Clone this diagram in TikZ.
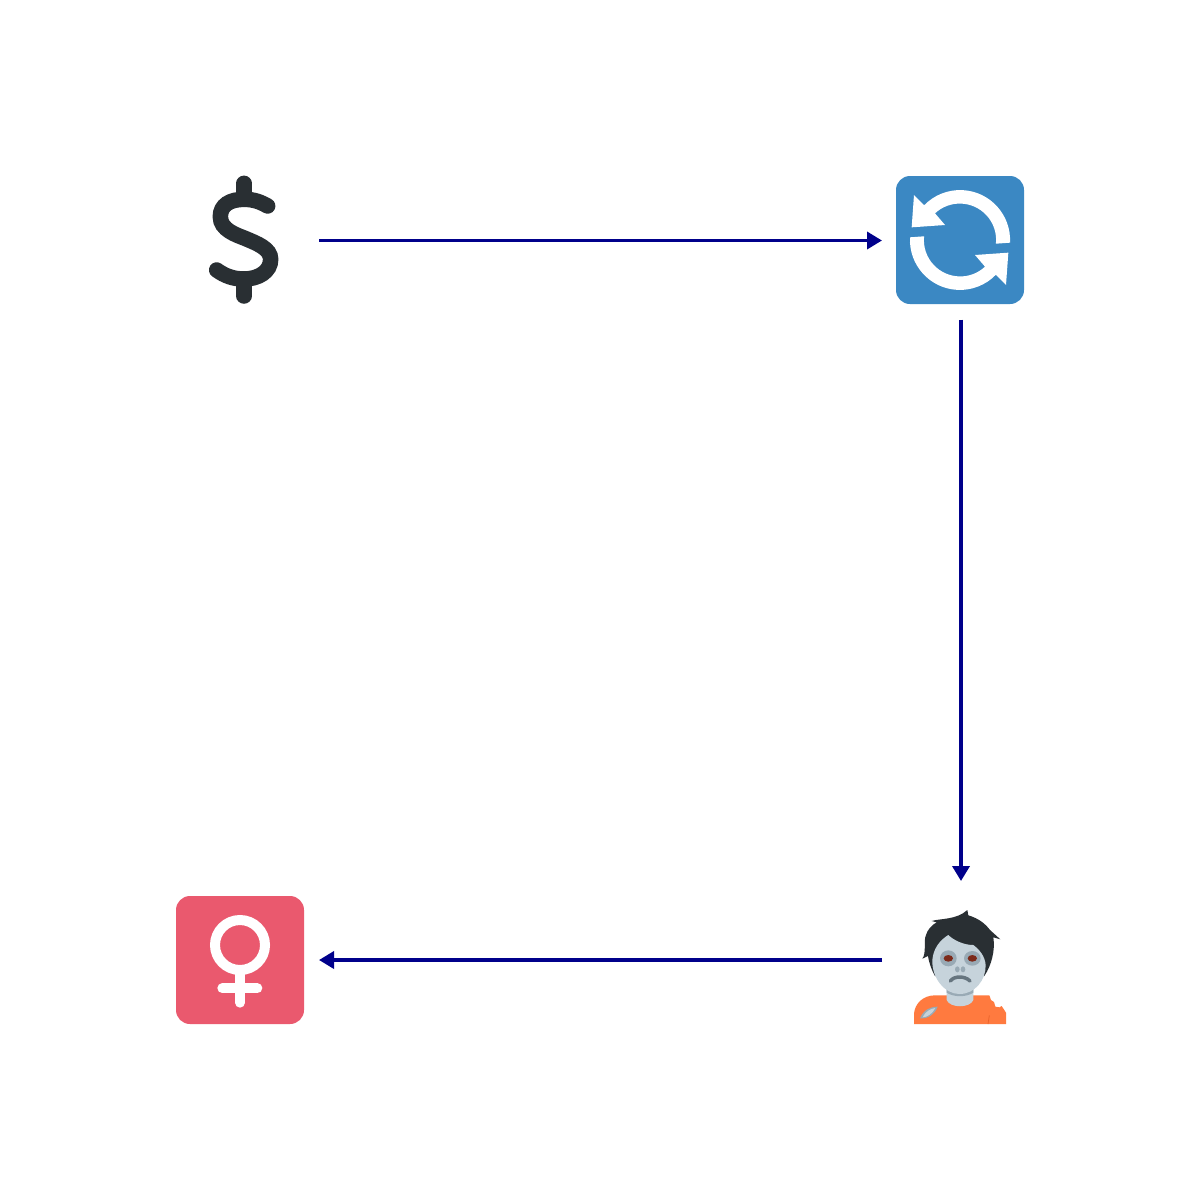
\documentclass[tikz,border=0pt]{standalone}
\usetikzlibrary{arrows.meta}
\definecolor{flow}{HTML}{00008B}
\definecolor{ink}{HTML}{292F33}
\definecolor{bluebox}{HTML}{3B88C3}
\definecolor{pinkbox}{HTML}{EA596E}
\definecolor{skin}{HTML}{C6D3DB}
\definecolor{ashgrey}{HTML}{99AAB5}
\definecolor{mouthgrey}{HTML}{66757F}
\definecolor{shirt}{HTML}{FF7A3F}
\definecolor{shirtdark}{HTML}{E8622A}
\definecolor{eyered}{HTML}{7C2A1A}
\tikzset{
  x=1pt,y=-1pt,
  slot/.style={minimum width=158pt,minimum height=158pt,inner sep=0pt,outer sep=0pt,draw=none},
  flowline/.style={draw=flow,line width=3.6pt,-{Triangle[length=15pt,width=17pt]}},
  zoomed/.style={x=0.33333pt,y=-0.33333pt},
  tile/.style={rounded corners=14pt}
}
\begin{document}
\begin{tikzpicture}
\useasboundingbox (0,0) rectangle (1200,1200);
\fill[white] (0,0) rectangle (1200,1200);

% dollar
\begin{scope}[xshift=170pt,yshift=-170pt,zoomed]
  \draw[ink,line width=15.5pt,line cap=round] (222,40) -- (222,80);
  \draw[ink,line width=15.5pt,line cap=round] (222,335) -- (222,378);
  \draw[ink,line width=15.5pt,line cap=round]
    (293,108) .. controls (270,95) and (250,88) .. (222,88)
    .. controls (180,88) and (151,105) .. (151,140)
    .. controls (151,180) and (200,195) .. (225,205)
    .. controls (260,220) and (302,235) .. (302,268)
    .. controls (302,305) and (265,327) .. (222,327)
    .. controls (190,327) and (165,318) .. (140,300);
\end{scope}

% cycle arrows
\begin{scope}[xshift=890pt,yshift=-170pt,zoomed]
  \fill[bluebox,tile] (18,18) rectangle (402,402);
  \fill[white] (360,218) arc[start angle=3,end angle=-136,radius=150]
    -- (72,75) -- (65,172) -- (165,165) -- (135,130)
    arc[start angle=-133,end angle=6,radius=109] -- cycle;
  \fill[white] (60,202) arc[start angle=183,end angle=44,radius=150]
    -- (348,345) -- (355,248) -- (255,255) -- (285,290)
    arc[start angle=47,end angle=186,radius=109] -- cycle;
\end{scope}

% venus
\begin{scope}[xshift=170pt,yshift=-890pt,zoomed]
  \fill[pinkbox,tile] (18,18) rectangle (402,402);
  \draw[white,line width=10pt] (210,165) circle[radius=75];
  \draw[white,line width=10pt,line cap=round] (210,250) -- (210,338);
  \draw[white,line width=10pt,line cap=round] (157,295) -- (262,295);
\end{scope}

% zombie
\begin{scope}[xshift=890pt,yshift=-890pt,zoomed]
  \fill[shirt] (72,402) -- (72,372) .. controls (74,340) and (100,316) .. (135,316)
    -- (298,316) -- (303,330) -- (312,336) -- (316,350) -- (328,352) -- (335,348)
    -- (348,368) -- (348,402) -- cycle;
  \draw[shirtdark,line width=0.7pt] (298,376) -- (294,402);
  \fill[ashgrey] (90,385) .. controls (100,360) and (120,350) .. (143,350)
    .. controls (135,372) and (115,387) .. (90,385) -- cycle;
  \fill[skin] (98,382) .. controls (105,366) and (120,356) .. (136,354)
    .. controls (128,370) and (112,382) .. (98,382) -- cycle;
  \fill[skin] (170,290) -- (250,290) -- (250,330)
    .. controls (240,355) and (180,355) .. (170,330) -- cycle;
  \fill[ashgrey] (170,296) -- (250,296) -- (250,308)
    .. controls (230,322) and (190,322) .. (170,308) -- cycle;
  \fill[ink] (232,60) -- (235,76) .. controls (265,85) and (285,100) .. (300,120)
    -- (331,148) -- (310,142) .. controls (316,180) and (305,225) .. (283,258)
    -- (135,258) .. controls (125,240) and (118,222) .. (114,198)
    -- (97,206) .. controls (110,190) and (100,150) .. (108,135)
    .. controls (112,120) and (125,105) .. (140,97)
    -- (125,93) .. controls (150,85) and (200,90) .. (232,60) -- cycle;
  \fill[skin] (127,210) .. controls (130,175) and (150,150) .. (175,135)
    .. controls (190,150) and (220,165) .. (250,165)
    .. controls (270,180) and (285,200) .. (287,225)
    .. controls (288,270) and (255,312) .. (208,312)
    .. controls (165,312) and (125,265) .. (127,210) -- cycle;
  \fill[ashgrey] (175,205) ellipse[x radius=25,y radius=24];
  \fill[ashgrey] (247,205) ellipse[x radius=25,y radius=22];
  \fill[eyered] (175,205) ellipse[x radius=14,y radius=10];
  \fill[eyered] (247,205) ellipse[x radius=14,y radius=10];
  \fill[ashgrey] (202,238) ellipse[x radius=7,y radius=9];
  \fill[ashgrey] (219,238) ellipse[x radius=7,y radius=9];
  \draw[mouthgrey,line width=3.5pt,line cap=round] (181,273) .. controls (192,257) and (225,257) .. (240,273);
\end{scope}

% invisible slots that the connectors join
\node[slot] (dollar) at (240,240.5) {};
\node[slot] (cycle) at (961,240.5) {};
\node[slot] (zombie) at (961,960) {};
\node[slot] (venus) at (240,960) {};

\draw[flowline] (dollar) -- (cycle);
\draw[flowline] (cycle) -- (zombie);
\draw[flowline] (zombie) -- (venus);
\end{tikzpicture}
\end{document}
